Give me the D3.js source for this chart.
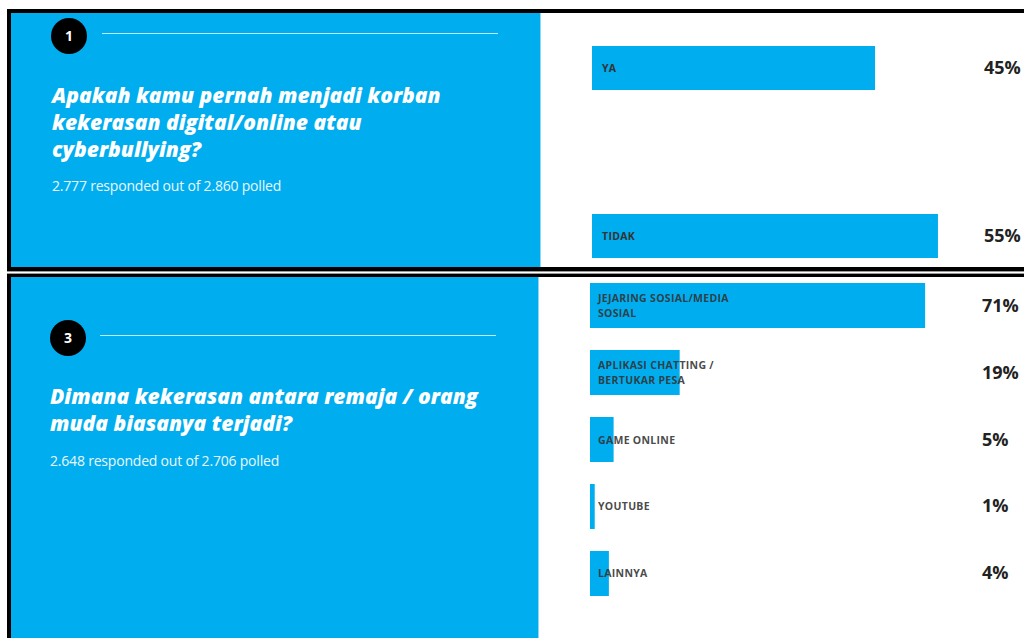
<!DOCTYPE html>
<html>
<head>
<meta charset="utf-8">
<script src="https://cdn.jsdelivr.net/npm/d3@7"></script>
<style>
  body { margin: 0; background: #fff; }
  svg { display: block; }
</style>
</head>
<body>
<script>
// poll 1
let q1Categories = ["YA", "TIDAK"];
let q1Values = [45, 55];
let q1Title = ["Apakah kamu pernah menjadi korban", "kekerasan digital/online atau", "cyberbullying?"];
let q1Sub = "2.777 responded out of 2.860 polled";

// poll 3
let q3Categories = ["JEJARING SOSIAL/MEDIA SOSIAL", "APLIKASI CHATTING / BERTUKAR PESA", "GAME ONLINE", "YOUTUBE", "LAINNYA"];
let q3Labels = [["JEJARING SOSIAL/MEDIA", "SOSIAL"], ["APLIKASI CHATTING /", "BERTUKAR PESA"], ["GAME ONLINE"], ["YOUTUBE"], ["LAINNYA"]];
let q3Values = [71, 19, 5, 1, 4];
let q3Title = ["Dimana kekerasan antara remaja / orang", "muda biasanya terjadi?"];
let q3Sub = "2.648 responded out of 2.706 polled";

const blue = "#00adef";
let svg = d3.select("body").append("svg").attr("width", 1024).attr("height", 638);

// frames
svg.append("rect").attr("x", 7).attr("y", 9).attr("width", 1030).attr("height", 268).attr("fill", "#000");
svg.append("rect").attr("x", 7).attr("y", 271).attr("width", 1030).attr("height", 3).attr("fill", "#9a9a9a");
svg.append("rect").attr("x", 7).attr("y", 272).attr("width", 1030).attr("height", 1).attr("fill", "#fff");
svg.append("rect").attr("x", 7).attr("y", 277).attr("width", 4).attr("height", 361).attr("fill", "#000");

// top panel
svg.append("rect").attr("x", 11).attr("y", 13).attr("width", 529).attr("height", 254).attr("fill", blue);
svg.append("rect").attr("x", 540).attr("y", 13).attr("width", 490).attr("height", 254).attr("fill", "#fff");
svg.append("line").attr("x1", 540.5).attr("x2", 540.5).attr("y1", 13).attr("y2", 267).attr("stroke", "#8fd8f5");
// bottom panel
svg.append("rect").attr("x", 11).attr("y", 277).attr("width", 527).attr("height", 361).attr("fill", blue);
svg.append("line").attr("x1", 538.5).attr("x2", 538.5).attr("y1", 277).attr("y2", 638).attr("stroke", "#8fd8f5");

function header(num, cx, cy, lineX1, lineX2, lineY, title, titleX, titleY, sub, subY) {
    svg.append("circle").attr("cx", cx).attr("cy", cy).attr("r", 18).attr("fill", "#000");
    svg.append("text").attr("x", cx).attr("y", cy + 5).attr("text-anchor", "middle")
        .attr("font-family", "Open Sans").attr("font-weight", "bold").attr("font-size", 14)
        .attr("fill", "#fff").text(num);
    svg.append("line").attr("x1", lineX1).attr("x2", lineX2).attr("y1", lineY).attr("y2", lineY)
        .attr("stroke", "#fff").attr("stroke-opacity", 0.75).attr("stroke-width", 1);
    svg.selectAll("text.t" + num).data(title).enter().append("text").attr("class", "t" + num)
        .attr("x", titleX).attr("y", function(d, i) {
            return titleY + i * 27;
        })
        .attr("font-family", "Open Sans").attr("font-weight", 800).attr("font-style", "italic")
        .attr("font-size", 21).attr("fill", "#fff").text(d => d);
    svg.append("text").attr("x", titleX).attr("y", subY)
        .attr("font-family", "Open Sans").attr("font-size", 14).attr("letter-spacing", -0.2)
        .attr("fill", "#eaf7fd").text(sub);
}

header("1", 69, 36, 102, 498, 33.5, q1Title, 52, 103, q1Sub, 191);
header("3", 68, 338, 100, 496, 335.5, q3Title, 50, 404, q3Sub, 466);

// poll 1 bars
let x1 = d3.scaleLinear().domain([0, 100]).range([592, 592 + 629]);
let y1 = d3.scaleBand().domain(q1Categories).range([46, 258]).paddingInner(0.738);

svg.selectAll("rect.q1").data(q1Values).enter().append("rect").attr("class", "q1")
    .attr("x", x1(0)).attr("y", (d, i) => y1(q1Categories[i]))
    .attr("width", d => x1(d) - x1(0)).attr("height", y1.bandwidth()).attr("fill", blue);
svg.selectAll("text.q1l").data(q1Categories).enter().append("text").attr("class", "q1l")
    .attr("x", 602).attr("y", d => y1(d) + y1.bandwidth() / 2 + 4)
    .attr("font-family", "Open Sans").attr("font-weight", "bold").attr("font-size", 10.5)
    .attr("letter-spacing", 0.3).attr("fill", "#333").text(d => d);
svg.selectAll("text.q1v").data(q1Values).enter().append("text").attr("class", "q1v")
    .attr("x", 984).attr("y", (d, i) => y1(q1Categories[i]) + y1.bandwidth() / 2 + 6)
    .attr("font-family", "Open Sans").attr("font-weight", "bold").attr("font-size", 18)
    .attr("fill", "#222").text(d => d + "%");

// poll 3 bars
let x3 = d3.scaleLinear().domain([0, 100]).range([590, 590 + 472]);
let y3 = d3.scaleBand().domain(q3Categories).range([283, 596]).paddingInner(0.328);

svg.selectAll("rect.q3").data(q3Values).enter().append("rect").attr("class", "q3")
    .attr("x", x3(0)).attr("y", (d, i) => y3(q3Categories[i]))
    .attr("width", d => x3(d) - x3(0)).attr("height", y3.bandwidth()).attr("fill", blue);
q3Labels.forEach(function(lines, i) {
    let mid = y3(q3Categories[i]) + y3.bandwidth() / 2;
    let top = mid - (lines.length - 1) * 15 / 2;
    svg.selectAll("text.q3l" + i).data(lines).enter().append("text").attr("class", "q3l" + i)
        .attr("x", 598).attr("y", (d, j) => top + j * 15 + 4)
        .attr("font-family", "Open Sans").attr("font-weight", "bold").attr("font-size", 10.5)
        .attr("letter-spacing", 0.3).attr("fill", "#333").attr("fill-opacity", 0.9).text(d => d);
});
svg.selectAll("text.q3v").data(q3Values).enter().append("text").attr("class", "q3v")
    .attr("x", 982).attr("y", (d, i) => y3(q3Categories[i]) + y3.bandwidth() / 2 + 6)
    .attr("font-family", "Open Sans").attr("font-weight", "bold").attr("font-size", 18)
    .attr("fill", "#222").text(d => d + "%");
</script>
</body>
</html>
